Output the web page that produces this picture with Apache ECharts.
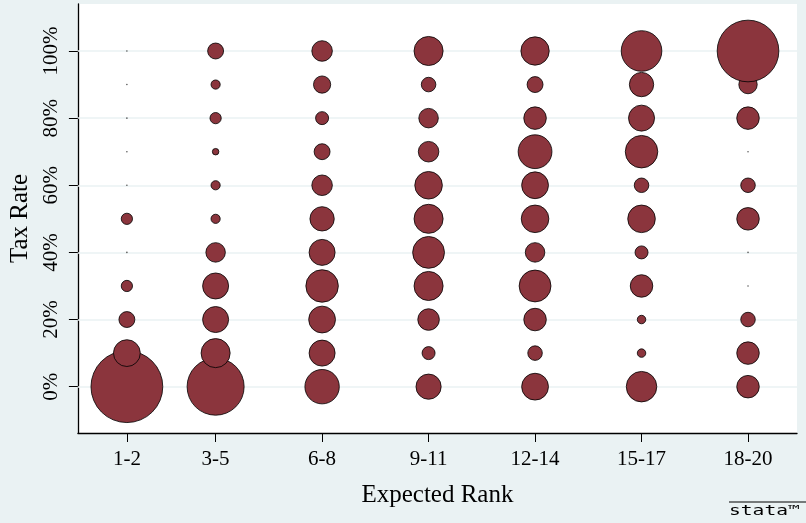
<!DOCTYPE html>
<html><head><meta charset="utf-8">
<script src="https://cdn.jsdelivr.net/npm/echarts@6/dist/echarts.min.js"></script>
<style>html,body{margin:0;padding:0;background:#EAF2F3;}#c{width:806px;height:523px;}</style>
</head><body><div id="c"></div>
<script>
// Expected rank groups (x position = group midpoint) and tax rates
const rankLabels = ['1-2','3-5','6-8','9-11','12-14','15-17','18-20'];
const rankMid = [1.5, 4, 7, 10, 13, 16, 19];
const taxRates = [0,10,20,30,40,50,60,70,80,90,100];
const yTicks = [0,20,40,60,80,100];
// counts (bubble weights) per tax rate, 0%..100%
const w_1_2   = [122,17,6,3,0,3,0,0,0,0,0];
const w_3_5   = [77,20,16,16,9,2,2,1,3,2,6];
const w_6_8   = [28,16,17,25,16,14,10,6,4,7,10];
const w_9_11  = [15,4,11,20,24,20,18,10,9,5,20];
const w_12_14 = [17,5,12,24,9,18,17,27,12,6,19];
const w_15_17 = [22,1.7,1.7,12,4,18,5,25,16,14,39];
const w_18_20 = [12,12,5,0,0,12,5,0,12,8,90];
const weights = [w_1_2,w_3_5,w_6_8,w_9_11,w_12_14,w_15_17,w_18_20];

const bubbles = [], dots = [];
weights.forEach((col, i) => {
  col.forEach((w, j) => {
    if (w > 0) bubbles.push([rankMid[i], taxRates[j], w]);
    else dots.push([rankMid[i], taxRates[j], 0]);
  });
});
const K = 6.5;
const font = 'Liberation Serif';
const chart = echarts.init(document.getElementById('c'));
chart.setOption({
  backgroundColor: '#EAF2F3',
  animation: false,
  grid: {left: 77, right: 9, top: 4, bottom: 90, show: true, backgroundColor: '#ffffff', borderWidth: 0},
  xAxis: {
    type: 'value', min: 0.12, max: 20.38,
    name: 'Expected Rank', nameLocation: 'middle', nameGap: 50,
    nameTextStyle: {fontFamily: font, fontSize: 25, color: '#000'},
    axisLine: {show: true, onZero: false, lineStyle: {color: '#000', width: 1.3}},
    axisTick: {show: true, length: 9, customValues: rankMid, lineStyle: {color: '#000'}},
    axisLabel: {customValues: rankMid, margin: 16, fontFamily: font, fontSize: 21, color: '#000',
      formatter: v => { const k = rankMid.indexOf(v); return k >= 0 ? rankLabels[k] : ''; }},
    splitLine: {show: false}
  },
  yAxis: {
    type: 'value', min: -13.8, max: 114,
    name: 'Tax Rate', nameLocation: 'middle', nameRotate: 90, nameGap: 44,
    nameTextStyle: {fontFamily: font, fontSize: 25, color: '#000'},
    axisLine: {show: true, onZero: false, lineStyle: {color: '#000', width: 1.3}},
    axisTick: {show: true, length: 9, customValues: yTicks, lineStyle: {color: '#000'}},
    axisLabel: {customValues: yTicks, rotate: 90, margin: 16, fontFamily: font, fontSize: 21, color: '#000',
      formatter: v => v + '%'},
    splitLine: {show: false}
  },
  series: [
    {
      type: 'scatter', data: [], z: 1, silent: true,
      markLine: {
        z: 1, silent: true, symbol: 'none', label: {show: false},
        lineStyle: {color: '#EAF2F3', width: 1.5, type: 'solid'},
        data: yTicks.map(v => ({yAxis: v}))
      }
    },
    {
      type: 'scatter', data: dots, symbolSize: 1.6, z: 3,
      itemStyle: {color: '#333', borderWidth: 0}, silent: true
    },
    {
      type: 'scatter', data: bubbles, z: 4,
      symbolSize: d => K * Math.sqrt(d[2]),
      itemStyle: {color: '#8B353D', borderColor: '#000', borderWidth: 0.8, opacity: 1}
    }
  ],
  graphic: [
    {type: 'line', shape: {x1: 729, y1: 502, x2: 806, y2: 502}, style: {stroke: '#000', lineWidth: 1}},
    {type: 'text', x: 729, y: 504, scaleX: 1.4, style: {text: 'stata™', font: '14px DejaVu Sans Mono', fill: '#000'}}
  ]
});
</script></body></html>
